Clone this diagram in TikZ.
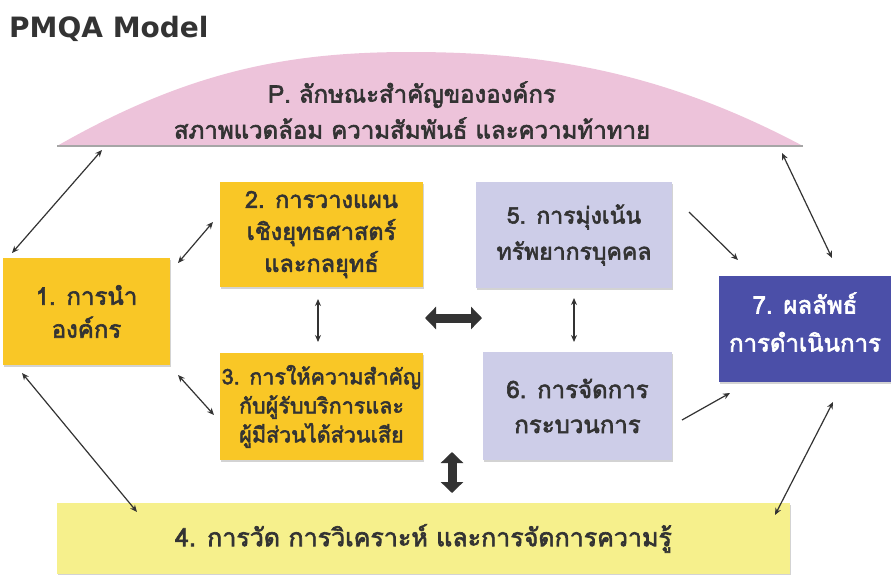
\documentclass[tikz,border=0pt]{standalone}
\usepackage{fontspec}
\newfontfamily\thaifont[Script=Thai, FakeBold=2.5]{Loma}
\newfontfamily\titlefont{DejaVu Sans}
\usetikzlibrary{arrows.meta,shadows}
\definecolor{gold}{HTML}{F9C726}
\definecolor{lav}{HTML}{CDCDE8}
\definecolor{navy}{HTML}{4B4FA8}
\definecolor{lyel}{HTML}{F6F08C}
\definecolor{domepink}{HTML}{EDC3DA}
\definecolor{ink}{HTML}{333333}
\newcommand\tf[2]{\thaifont\fontsize{#1}{#2}\selectfont}
\tikzset{
  box/.style={rectangle, inner sep=0pt, align=center, text=ink,
    drop shadow={shadow xshift=1pt, shadow yshift=-1.5pt, opacity=0.35, fill=gray}},
  goldbox/.style={box, fill=gold},
  lavbox/.style={box, fill=lav},
  dar/.style={draw=ink, line width=1.2pt, {Stealth[length=7pt,width=6pt]}-{Stealth[length=7pt,width=6pt]}},
  sar/.style={draw=ink, line width=1.2pt, -{Stealth[length=7pt,width=6pt]}},
  bigar/.style={draw=ink, line width=9pt, {Triangle[length=11pt,width=22pt]}-{Triangle[length=11pt,width=22pt]}},
}
\begin{document}
\begin{tikzpicture}[x=1pt,y=-1pt]
\useasboundingbox (0,0) rectangle (891,574);
% title
\node[anchor=base west, inner sep=0pt, text=ink, font=\titlefont\bfseries\fontsize{28}{30}\selectfont] (title) at (9,37) {PMQA Model};
% dome
\fill[domepink] (57,146) .. controls (190,70) and (290,52) .. (410,52) .. controls (540,52) and (660,70) .. (803,146) -- cycle;
\draw[gray!70, line width=1.5pt] (57,146) -- (803,146);
\node[inner sep=0pt, text=ink, font=\tf{24}{36}, align=center] (p) at (412,110)
  {P. ลักษณะสำคัญขององค์กร\\สภาพแวดล้อม ความสัมพันธ์ และความท้าทาย};
% boxes
\node[goldbox, font=\tf{24}{33}, minimum width=167pt, minimum height=107pt] (b1) at (86.5,311.5) {1. การนำ\\องค์กร};
\node[goldbox, font=\tf{23.5}{32}, minimum width=203pt, minimum height=105pt] (b2) at (321.5,234.5) {2. การวางแผน\\เชิงยุทธศาสตร์\\และกลยุทธ์};
\node[goldbox, font=\tf{21.5}{29}, minimum width=203pt, minimum height=107pt] (b3) at (321.5,406.5) {3. การให้ความสำคัญ\\กับผู้รับบริการและ\\ผู้มีส่วนได้ส่วนเสีย};
\node[lavbox, font=\tf{23}{36}, minimum width=196pt, minimum height=106pt] (b5) at (574,235) {5. การมุ่งเน้น\\ทรัพยากรบุคคล};
\node[lavbox, font=\tf{24}{35}, minimum width=189pt, minimum height=108pt] (b6) at (577.5,406) {6. การจัดการ\\กระบวนการ};
\node[box, fill=navy, minimum width=172pt, minimum height=106pt] (b7) at (805,329) {};
\node[inner sep=0pt, align=center, text=white, font=\tf{24}{38}] (b7t) at (805,322) {7. ผลลัพธ์\\การดำเนินการ};
\node[box, fill=lyel, font=\tf{25}{30}, minimum width=733pt, minimum height=71pt] (b4) at (423.5,538.5) {4. การวัด การวิเคราะห์ และการจัดการความรู้};
% connector end points
\coordinate (a1s) at (12,253);  \coordinate (a1e) at (102,150);
\coordinate (a2s) at (782,153); \coordinate (a2e) at (832,258);
\coordinate (a3s) at (178,263); \coordinate (a3e) at (213,222);
\coordinate (a4s) at (178,375); \coordinate (a4e) at (214,415);
\coordinate (a5s) at (318,299); \coordinate (a5e) at (318,342);
\coordinate (a6s) at (574,298); \coordinate (a6e) at (574,342);
\coordinate (a7s) at (689,212); \coordinate (a7e) at (738,260);
\coordinate (a8s) at (682,420); \coordinate (a8e) at (730,393);
\coordinate (a9s) at (22,373);  \coordinate (a9e) at (137,512);
\coordinate (a10s) at (833,402); \coordinate (a10e) at (775,515);
\coordinate (h1) at (425,318); \coordinate (h2) at (482,318);
\coordinate (v1) at (452,452); \coordinate (v2) at (452,493);
% connectors
\draw[dar] (a1s) -- (a1e);
\draw[dar] (a2s) -- (a2e);
\draw[dar] (a3s) -- (a3e);
\draw[dar] (a4s) -- (a4e);
\draw[dar] (a5s) -- (a5e);
\draw[dar] (a6s) -- (a6e);
\draw[sar] (a7s) -- (a7e);
\draw[sar] (a8s) -- (a8e);
\draw[dar] (a9s) -- (a9e);
\draw[dar] (a10s) -- (a10e);
\draw[bigar] (h1) -- (h2);
\draw[bigar] (v1) -- (v2);
\end{tikzpicture}
\end{document}
